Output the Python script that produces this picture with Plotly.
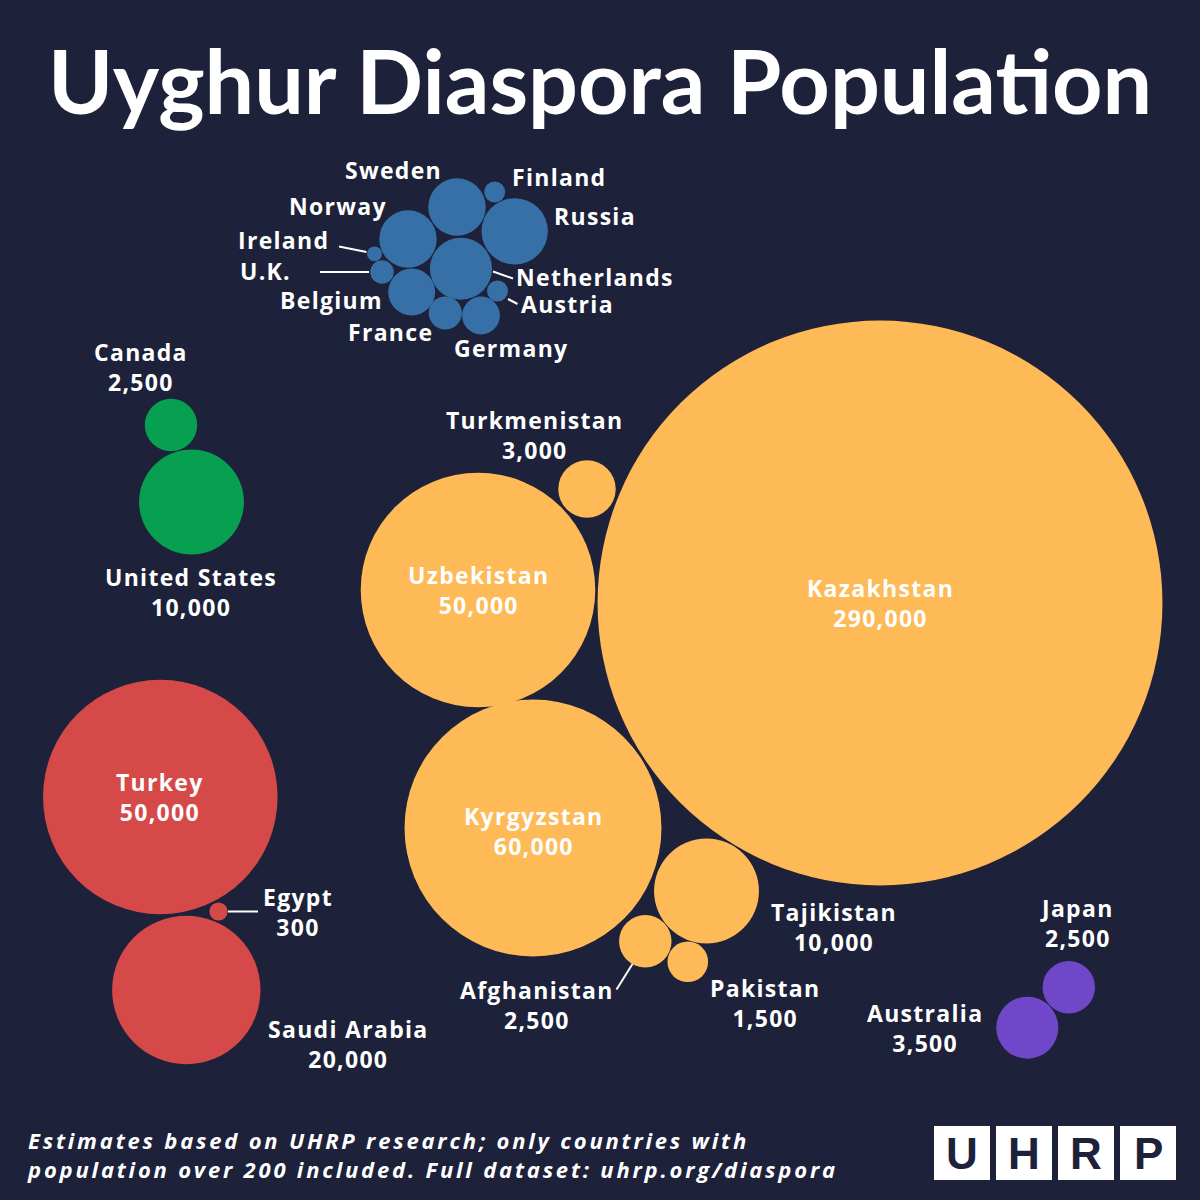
import plotly.graph_objects as go
import numpy as np

# ---------------- data ----------------
countries = ["Sweden", "Finland", "Russia", "Norway", "Netherlands", "Ireland", "U.K.",
             "Belgium", "Austria", "France", "Germany",
             "Canada", "United States",
             "Turkey", "Egypt", "Saudi Arabia",
             "Kazakhstan", "Uzbekistan", "Kyrgyzstan", "Turkmenistan", "Tajikistan",
             "Afghanistan", "Pakistan",
             "Japan", "Australia"]
population = [3000, 400, 4000, 3000, 3500, 200, 500,
              2000, 400, 1000, 1300,
              2500, 10000,
              50000, 300, 20000,
              290000, 50000, 60000, 3000, 10000,
              2500, 1500,
              2500, 3500]
region = ["Europe"] * 11 + ["North America"] * 2 + ["Middle East"] * 3 + \
         ["Central Asia"] * 7 + ["Asia Pacific"] * 2
show_value = [False] * 11 + [True] * 14

# layout positions (pixel-like coordinate space of the axes)
bubble_x = [457, 494.7, 514.7, 408, 461, 374.5, 382, 411.7, 497.5, 445.3, 481,
            171, 191.5,
            160.3, 218.5, 186.3,
            880, 478, 533, 587, 706.5, 645.3, 687.8,
            1068.8, 1027.3]
bubble_y = [207, 192, 231.3, 239, 268.7, 253.8, 272, 292, 291, 313, 315.5,
            425, 502,
            797, 911.5, 990,
            603, 590, 828, 489, 891, 941.3, 961.8,
            987.2, 1027.7]
label_x = [393, 559, 595, 338, 595, 283, 265, 331, 567, 390, 511,
           141, 191,
           160, 298, 348,
           880, 478, 534, 534, 834, 537, 765,
           1077, 925]
label_y = [170, 177, 216, 206, 277, 240, 271, 300, 304, 332, 348,
           366.5, 591.5,
           797, 912, 1044,
           603, 589.5, 831, 434.5, 926.5, 1004.5, 1003,
           923, 1028]

# leader lines: (country, x0, y0, x1, y1)
leaders = [("Ireland", 339, 246.5, 366.5, 252),
           ("U.K.", 320, 272, 369, 272),
           ("Netherlands", 493, 271.5, 513, 278.5),
           ("Austria", 508, 299, 517.5, 304),
           ("Egypt", 228, 911.5, 258, 911.5),
           ("Afghanistan", 616.5, 989.5, 632.5, 964)]

footer_lines = ["Estimates based on UHRP research; only countries with",
                "population over 200 included. Full dataset: uhrp.org/diaspora"]
logo_letters = ["U", "H", "R", "P"]

region_colors = {"Europe": "#3670a6", "North America": "#06a050", "Middle East": "#d54949",
                 "Central Asia": "#fdba57", "Asia Pacific": "#7047c9"}

BG = "#1d2139"
PX_PER_SQRT = 0.5245  # bubble radius (px) per sqrt(person)


def spaced(s, px):
    return f'<span style="letter-spacing:{px}px">{s}</span>'


fig = go.Figure()

# bubbles, one trace per region
for reg, col in region_colors.items():
    idx = [i for i, r in enumerate(region) if r == reg]
    fig.add_trace(go.Scatter(
        x=[bubble_x[i] for i in idx],
        y=[bubble_y[i] for i in idx],
        mode="markers",
        marker=dict(size=[2 * PX_PER_SQRT * np.sqrt(population[i]) for i in idx],
                    sizemode="diameter", sizeref=1, color=col, opacity=1,
                    line=dict(width=0)),
        hovertext=[f"{countries[i]}: {population[i]:,}" for i in idx],
        hoverinfo="text",
        showlegend=False,
        cliponaxis=False,
    ))

# leader lines
lx, ly = [], []
for _, x0, y0, x1, y1 in leaders:
    lx += [x0, x1, None]
    ly += [y0, y1, None]
fig.add_trace(go.Scatter(x=lx, y=ly, mode="lines",
                         line=dict(color="white", width=2),
                         hoverinfo="skip", showlegend=False))

# labels
label_font = dict(family="Open Sans", size=23, color="white", weight="bold")
for i, name in enumerate(countries):
    if show_value[i]:
        txt = spaced(name, 1.3) + "<br>" + spaced(f"{population[i]:,}", 1.3)
    else:
        txt = spaced(name, 1.3)
    fig.add_annotation(x=label_x[i], y=label_y[i], text=txt, showarrow=False,
                       xanchor="center", yanchor="middle", align="center",
                       font=label_font)

# title
fig.add_annotation(x=0.5, y=1 - 80 / 1200, xref="paper", yref="paper",
                   text="Uyghur Diaspora Population", showarrow=False,
                   xanchor="center", yanchor="middle",
                   font=dict(family="Lato", size=88, color="white", weight="bold"))

# footer (two lines in one block)
fig.add_annotation(x=25 / 1200, y=1 - 1154 / 1200, xref="paper", yref="paper",
                   text="<br>".join(spaced(l, 2.8) for l in footer_lines),
                   showarrow=False, xanchor="left", yanchor="middle", align="left",
                   font=dict(family="Open Sans", size=22, color="white",
                             weight="bold", style="italic"))

# UHRP logo boxes
box_left = [934, 996, 1058, 1120]
for L, x0 in zip(logo_letters, box_left):
    fig.add_shape(type="rect", xref="paper", yref="paper",
                  x0=x0 / 1200, x1=(x0 + 56) / 1200,
                  y0=1 - 1180 / 1200, y1=1 - 1126 / 1200,
                  fillcolor="white", line=dict(width=0), layer="above")
    fig.add_annotation(x=(x0 + 28) / 1200, y=1 - 1153 / 1200, xref="paper", yref="paper",
                       text=L, showarrow=False, xanchor="center", yanchor="middle",
                       font=dict(family="Liberation Sans", size=44, color=BG, weight="bold"))

fig.update_layout(
    width=1200, height=1200,
    margin=dict(l=0, r=0, t=0, b=0),
    paper_bgcolor=BG, plot_bgcolor=BG,
    xaxis=dict(range=[0, 1200], visible=False, fixedrange=True),
    yaxis=dict(range=[1200, 0], visible=False, fixedrange=True),
    hovermode="closest",
)

fig.write_html("out.html")
